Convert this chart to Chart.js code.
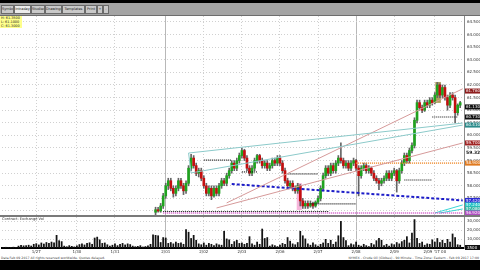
<!DOCTYPE html>
<html>
<head>
<meta charset="utf-8">
<script src="https://cdn.jsdelivr.net/npm/chart.js@4.4.1/dist/chart.umd.min.js"></script>
<style>
  html, body { margin: 0; padding: 0; width: 480px; height: 270px; overflow: hidden; background: #000; font-family: "DejaVu Sans", sans-serif; }
  #frame { position: absolute; left: 0; top: 3px; width: 480px; height: 257px; background: #fff; }
  #toolbar { position: absolute; left: 0; top: 3px; width: 480px; height: 12px; background: #a4a4a4; border-bottom: 1px solid #6d6d6d; }
  .tab { position: absolute; top: 2px; height: 7px; background: #c9c9c9; border: 1px solid #6a6a6a; font-size: 3.5px; line-height: 7px; color: #222; text-align: center; overflow: hidden; white-space: nowrap; }
  .tab.on { background: #ececec; }
  #legend { position: absolute; left: 0; top: 16px; width: 22px; height: 12px; background: #ffff8c; font-size: 3.4px; line-height: 4px; color: #222; padding-left: 1px; box-sizing: border-box; z-index: 3; }
  canvas { position: absolute; left: 0; }
  #price { top: 16px; }
  #sep { position: absolute; left: 0; top: 215px; width: 480px; height: 2px; background: #7a7a7a; }
  #vol { top: 217px; }
  #voltitle { position: absolute; left: 2px; top: 217px; font-size: 3.6px; color: #333; z-index: 3; }
  #footL { position: absolute; left: 1px; top: 256px; font-size: 3.2px; color: #444; white-space: nowrap; }
  #footR { position: absolute; right: 1px; top: 256px; font-size: 3.2px; color: #444; white-space: nowrap; }
</style>
</head>
<body>
<div id="frame"></div>
<div id="toolbar">
  <div class="tab" style="left:1px;width:11px">Symbol</div>
  <div class="tab on" style="left:14px;width:15px">Intraday</div>
  <div class="tab" style="left:31px;width:12px">Studies</div>
  <div class="tab" style="left:45px;width:15px">Drawings</div>
  <div class="tab" style="left:62px;width:21px">Templates</div>
  <div class="tab" style="left:85px;width:10px">Print</div>
  <div class="tab" style="left:97px;width:4px">+</div>
  <div class="tab" style="left:103px;width:4px">-</div>
</div>
<div id="legend">H: 61.3500<br>L: 61.1000<br>C: 61.3000</div>
<canvas id="price" width="480" height="199"></canvas>
<div id="sep"></div>
<div id="voltitle">Contract: Exchange Vol</div>
<canvas id="vol" width="480" height="39"></canvas>
<div id="footL">Data Feb 09 2017 All rights reserved worldwide. Quotes delayed.</div>
<div id="footR">NYMEX - Crude Oil (Globex) - 90 Minute - Time Zone: Eastern - Feb 09 2017 17:00</div>
<script>
// bars on the time axis, candles start at firstCandle
const barCount = 182;
const firstCandle = 60;

const opens = [56.95, 57.05, 57.00, 57.20, 57.60, 58.00, 58.20, 57.90, 57.70, 57.90,
  58.20, 58.00, 57.80, 58.10, 58.70, 59.10, 58.80, 58.50, 58.60, 58.30,
  58.00, 57.70, 57.90, 57.60, 57.90, 57.70, 58.00, 58.20, 58.10, 58.40,
  58.60, 58.90, 58.70, 59.00, 59.20, 59.40, 59.10, 58.70, 58.50, 58.70,
  59.00, 59.20, 59.00, 58.80, 58.90, 58.70, 58.80, 59.00, 58.90, 59.10,
  58.90, 58.60, 58.20, 58.00, 58.10, 57.90, 57.80, 58.00, 57.40, 57.20,
  57.30, 57.20, 57.30, 57.20, 57.35, 57.50, 57.90, 58.40, 58.70, 58.50,
  58.80, 58.60, 58.90, 59.10, 59.00, 58.80, 58.90, 58.70, 58.90, 59.00,
  58.70, 58.40, 58.70, 58.80, 58.60, 58.70, 58.50, 58.30, 58.20, 58.10,
  58.20, 58.30, 58.50, 58.30, 58.50, 58.60, 58.20, 58.60, 58.90, 59.20,
  59.00, 59.40, 59.60, 60.60, 61.30, 61.10, 61.00, 61.30, 61.20, 61.40,
  61.30, 61.60, 62.00, 61.60, 61.90, 61.50, 61.20, 61.60, 61.50, 60.90,
  61.20];
const highs = [57.15, 57.15, 57.30, 57.70, 58.10, 58.30, 58.30, 58.00, 58.00, 58.30,
  58.30, 58.10, 58.20, 58.80, 59.25, 59.20, 58.90, 58.70, 58.70, 58.40,
  58.10, 58.00, 58.00, 58.00, 58.00, 58.10, 58.30, 58.30, 58.50, 58.70,
  59.00, 59.00, 59.10, 59.30, 59.50, 59.45, 59.20, 58.80, 58.80, 59.10,
  59.25, 59.25, 59.10, 59.00, 59.00, 58.90, 59.10, 59.10, 59.20, 59.20,
  59.00, 58.70, 58.30, 58.20, 58.20, 58.00, 58.10, 58.05, 57.50, 57.40,
  57.40, 57.40, 57.35, 57.40, 57.60, 58.00, 58.50, 58.80, 58.80, 58.90,
  58.90, 59.00, 59.20, 59.70, 59.10, 59.00, 59.00, 59.00, 59.10, 59.05,
  58.80, 58.80, 58.90, 58.90, 58.80, 58.75, 58.60, 58.40, 58.30, 58.30,
  58.40, 58.60, 58.60, 58.60, 58.70, 58.65, 58.70, 59.00, 59.30, 59.30,
  59.50, 59.70, 60.70, 61.40, 61.40, 61.20, 61.40, 61.40, 61.50, 61.50,
  61.70, 62.10, 62.05, 62.00, 62.00, 61.60, 61.70, 61.70, 61.60, 61.25,
  61.35];
const lows = [56.85, 56.95, 56.95, 57.10, 57.50, 57.85, 57.80, 57.55, 57.60, 57.80,
  57.90, 57.65, 57.70, 58.00, 58.60, 58.70, 58.40, 58.35, 58.20, 57.90,
  57.60, 57.60, 57.45, 57.55, 57.60, 57.60, 57.90, 58.00, 58.00, 58.30,
  58.50, 58.60, 58.60, 58.90, 59.10, 59.00, 58.60, 58.40, 58.40, 58.60,
  58.90, 58.90, 58.70, 58.70, 58.60, 58.60, 58.70, 58.80, 58.80, 58.80,
  58.50, 58.10, 57.90, 57.90, 57.80, 57.70, 57.70, 57.20, 57.10, 57.10,
  57.10, 57.15, 57.10, 57.15, 57.30, 57.40, 57.80, 58.30, 58.40, 58.40,
  58.50, 58.50, 58.80, 58.90, 58.70, 58.70, 58.60, 58.60, 58.80, 58.60,
  57.60, 58.30, 58.60, 58.50, 58.50, 58.40, 58.20, 58.10, 57.85, 58.00,
  58.10, 58.20, 58.20, 58.20, 58.40, 57.75, 58.10, 58.50, 58.80, 58.90,
  58.90, 59.30, 59.50, 60.50, 61.00, 60.90, 60.95, 61.10, 61.10, 61.20,
  61.25, 61.50, 61.50, 61.50, 61.40, 61.00, 61.10, 61.40, 60.50, 60.80,
  61.10];
const closes = [57.05, 57.00, 57.20, 57.60, 58.00, 58.20, 57.90, 57.70, 57.90, 58.20,
  58.00, 57.80, 58.10, 58.70, 59.10, 58.80, 58.50, 58.60, 58.30, 58.00,
  57.70, 57.90, 57.60, 57.90, 57.70, 58.00, 58.20, 58.10, 58.40, 58.60,
  58.90, 58.70, 59.00, 59.20, 59.40, 59.10, 58.70, 58.50, 58.70, 59.00,
  59.20, 59.00, 58.80, 58.90, 58.70, 58.80, 59.00, 58.90, 59.10, 58.90,
  58.60, 58.20, 58.00, 58.10, 57.90, 57.80, 58.00, 57.40, 57.20, 57.30,
  57.20, 57.30, 57.20, 57.35, 57.50, 57.90, 58.40, 58.70, 58.50, 58.80,
  58.60, 58.90, 59.10, 59.00, 58.80, 58.90, 58.70, 58.90, 59.00, 58.70,
  58.40, 58.70, 58.80, 58.60, 58.70, 58.50, 58.30, 58.20, 58.10, 58.20,
  58.30, 58.50, 58.30, 58.50, 58.60, 58.20, 58.60, 58.90, 59.20, 59.00,
  59.40, 59.60, 60.60, 61.30, 61.10, 61.00, 61.30, 61.20, 61.40, 61.30,
  61.60, 62.00, 61.60, 61.90, 61.50, 61.20, 61.60, 61.50, 60.90, 61.20,
  61.30];

const volumes = [800, 1200, 900, 1100, 1300, 1000, 2500, 3200, 2800, 3000,
  3500, 2600, 4500, 5200, 3800, 6000, 4800, 6500, 5500, 7000,
  6200, 14500, 8500, 7500, 2500, 1800, 3000, 2200, 1600, 2800,
  4200, 5000, 3800, 5500, 6200, 4500, 11500, 12500, 9500, 5500,
  6000, 4000, 2500, 3500, 5000, 3000, 4500, 5500, 3800, 5000,
  4200, 2500, 1800, 2200, 3000, 1500, 2000, 2800, 4500, 15000,
  14500, 14000, 6500, 12000, 11500, 5500, 6500, 5000, 7000, 5500,
  6000, 4500, 21000, 18000, 11000, 14500, 9000, 5000, 4000, 6000,
  3500, 5500, 4500, 3000, 5000, 4000, 3500, 19000, 10500, 9500,
  4500, 7500, 9000, 5500, 6000, 4500, 5500, 13000, 5000, 3500,
  7000, 4500, 21500, 11000, 12000, 2500, 4000, 3000, 2000, 3500,
  5500, 4500, 12000, 8000, 5000, 4000, 6500, 19000, 14000, 10500,
  5000, 3500, 6000, 4000, 2500, 4500, 6000, 10000, 5500, 9000,
  4500, 7000, 14000, 30000, 12000, 8500, 3000, 5000, 4000, 7000,
  3500, 2500, 4500, 3000, 2000, 5500, 4000, 8500, 11000, 9000,
  3000, 4500, 2500, 5000, 4000, 6500, 5000, 7500, 9000, 13000,
  6000, 17000, 32000, 11000, 5500, 7000, 3500, 5000, 4500, 9500,
  7000, 11000, 6500, 9000, 5500, 10000, 7000, 16000, 12000, 4000,
  3500, null];

// time axis
const tickIndex = [13, 29, 44, 64, 79, 94, 109, 124, 139, 154, 170];
const tickLabels = ['1/27', '1/30', '1/31', '2/01', '2/02', '2/03', '2/06', '2/07', '2/08', '2/09', "2/09 '17 00"];
const sessionBreaks = [64, 139];

// price axis
const priceTicks = [64.5, 64.0, 63.5, 63.0, 62.5, 62.0, 61.5, 61.0, 60.5, 60.0, 59.5, 59.0, 58.5, 58.0, 57.5, 57.0];
const priceMax = 64.738;
const priceMin = 56.841;
const volTicks = [10000, 20000, 30000];
const volMax = 34500;

// drawn studies: [bar index, price] end points
const tealUpper = [[73, 59.30], [181, 60.49]];
const tealLink = [[73, 59.30], [74, 58.51]];
const tealLower = [[74, 58.51], [181, 60.41]];
const redSteep = [[88, 57.32], [181, 61.85]];
const redShallow = [[84, 57.12], [181, 59.70]];
const blueTrend = [[90, 58.07], [181, 57.42]];
const orangeLevel = [[139, 58.90], [181, 58.90]];
const magentaLevel = [[63, 56.92], [181, 56.92]];
const cyanFan1 = [[170, 56.92], [181, 57.24]];
const cyanFan2 = [[172, 56.92], [181, 57.08]];
const blackLevels = [
  [[79, 59.02], [90, 59.02]],
  [[94, 58.55], [100, 58.55]],
  [[112, 58.47], [124, 58.47]],
  [[121, 57.28], [139, 57.28]],
  [[158, 58.23], [169, 58.23]],
  [[169, 60.73], [179, 60.73]],
  [[63, 56.98], [128, 56.98]]
];

// highlighted candle zones: start bar, end bar, top price, bottom price
const zoneStart = [115.6, 170.2];
const zoneEnd = [117.6, 172.4];
const zoneTop = [58.11, 62.12];
const zoneBottom = [57.04, 61.29];
const zoneColors = ['rgba(240,120,190,0.55)', 'rgba(150,130,40,0.75)'];

// price markers on the right axis
const markerValues = [61.76, 61.13, 60.73, 60.41, 59.70, 58.90, 57.42, 57.24, 57.08, 56.92];
const markerColors = ['#8e1d1d', '#111111', '#111111', '#2b8b8b', '#a02424', '#e07a1f', '#2a2ad2', '#22c6c6', '#33b5a5', '#b04fc2'];

const barLabels = Array.from({ length: barCount }, (_, i) => String(i));

function candleAt(i, fn) {
  const k = i - firstCandle;
  return (k >= 0 && k < closes.length) ? fn(k) : null;
}

const bodyData = barLabels.map((_, i) => candleAt(i, k => [opens[k], closes[k]]));
const wickData = barLabels.map((_, i) => candleAt(i, k => [lows[k], highs[k]]));
const bodyColors = barLabels.map((_, i) => candleAt(i, k => closes[k] >= opens[k] ? '#1fa31f' : '#c40f0f') || '#000');

function segment(points, color, width, dash) {
  return {
    type: 'line',
    data: points.map(p => ({ x: String(p[0]), y: p[1] })),
    borderColor: color,
    borderWidth: width,
    borderDash: dash,
    pointRadius: 0,
    fill: false,
    order: 1
  };
}

const studySets = [
  segment(tealUpper, '#8ccaca', 1, []),
  segment(tealLink, '#8ccaca', 1, []),
  segment(tealLower, '#8ccaca', 1, []),
  segment(redSteep, '#d69a9a', 1, []),
  segment(redShallow, '#d69a9a', 1, []),
  segment(orangeLevel, '#f08a2a', 1.5, [1, 1]),
  segment(magentaLevel, '#d050c8', 1.5, [1, 1]),
  segment(cyanFan1, '#3ad6d6', 1, []),
  segment(cyanFan2, '#3ad6d6', 1, []),
  segment(blueTrend, '#1c1cc8', 2, [3, 2])
].concat(blackLevels.map(l => segment(l, '#111', 1.2, [1, 1])));

const gridColor = ctx => sessionBreaks.includes(ctx.tick && ctx.tick.value) ? '#b8b8b8' : '#d0d0d0';
const gridDash = ctx => sessionBreaks.includes(ctx.tick && ctx.tick.value) ? [] : [1, 2];

const overlayPlugin = {
  id: 'overlay',
  beforeDatasetsDraw(chart) {
    const { ctx, scales: { x, y } } = chart;
    ctx.save();
    zoneStart.forEach((s, i) => {
      const x0 = x.getPixelForValue(s);
      const x1 = x.getPixelForValue(zoneEnd[i]);
      const y0 = y.getPixelForValue(zoneTop[i]);
      const y1 = y.getPixelForValue(zoneBottom[i]);
      ctx.fillStyle = zoneColors[i];
      ctx.fillRect(x0, y0, x1 - x0, y1 - y0);
    });
    ctx.restore();
  },
  afterDraw(chart) {
    const { ctx, chartArea, scales: { y } } = chart;
    ctx.save();
    ctx.font = '4px "DejaVu Sans"';
    ctx.textBaseline = 'middle';
    markerValues.forEach((v, i) => {
      const py = y.getPixelForValue(v);
      ctx.fillStyle = markerColors[i];
      ctx.fillRect(chartArea.right + 1, py - 2.5, 15, 5);
      ctx.fillStyle = '#fff';
      ctx.fillText(v.toFixed(4), chartArea.right + 2, py + 0.3);
    });
    ctx.fillStyle = '#111';
    ctx.font = 'bold 4.5px "DejaVu Sans"';
    ctx.fillText('59.325', chartArea.right + 2, y.getPixelForValue(59.30));
    ctx.restore();
  }
};

new Chart(document.getElementById('price'), {
  type: 'bar',
  data: {
    labels: barLabels,
    datasets: studySets.concat([
      { data: bodyData, backgroundColor: bodyColors, barThickness: 2, grouped: false, order: 2 },
      { data: wickData, backgroundColor: '#666', barThickness: 1, grouped: false, order: 3 }
    ])
  },
  options: {
    responsive: false,
    animation: false,
    devicePixelRatio: 1,
    layout: { padding: { left: 2, right: 0, top: 0, bottom: 0 } },
    plugins: { legend: { display: false }, tooltip: { enabled: false } },
    scales: {
      x: {
        type: 'category',
        grid: { offset: false, drawTicks: false, color: gridColor },
        border: { display: false, dash: gridDash },
        ticks: { display: false },
        afterBuildTicks: s => { s.ticks = tickIndex.map(v => ({ value: v })); },
        afterFit: s => { s.height = 0; }
      },
      y: {
        position: 'right',
        min: priceMin,
        max: priceMax,
        grid: { drawTicks: false, color: '#d0d0d0' },
        border: { display: true, color: '#8a8a8a', dash: [1, 2] },
        ticks: {
          font: { size: 4, family: 'DejaVu Sans' },
          color: '#333',
          padding: 3,
          callback: v => v.toFixed(4)
        },
        afterBuildTicks: s => { s.ticks = priceTicks.map(v => ({ value: v })); },
        afterFit: s => { s.width = 16; s.paddingTop = 0; s.paddingBottom = 0; }
      }
    }
  },
  plugins: [overlayPlugin]
});

const volBoxPlugin = {
  id: 'volbox',
  afterDraw(chart) {
    const { ctx, chartArea } = chart;
    ctx.save();
    ctx.fillStyle = '#111';
    ctx.fillRect(chartArea.right + 1, chartArea.bottom - 3, 15, 5);
    ctx.fillStyle = '#fff';
    ctx.font = '4px "DejaVu Sans"';
    ctx.textBaseline = 'middle';
    ctx.fillText(String(volumes[barCount - 2]), chartArea.right + 3, chartArea.bottom - 0.5);
    ctx.restore();
  }
};

new Chart(document.getElementById('vol'), {
  type: 'bar',
  data: {
    labels: barLabels,
    datasets: [{ data: volumes, backgroundColor: '#141414', barPercentage: 0.7, categoryPercentage: 1 }]
  },
  options: {
    responsive: false,
    animation: false,
    devicePixelRatio: 1,
    layout: { padding: { left: 2, right: 0, top: 0, bottom: 0 } },
    plugins: { legend: { display: false }, tooltip: { enabled: false } },
    scales: {
      x: {
        type: 'category',
        grid: { offset: false, drawTicks: false, color: gridColor },
        border: { display: true, color: '#000', width: 2, dash: gridDash },
        ticks: {
          font: { size: 4, family: 'DejaVu Sans' },
          color: '#333',
          padding: 2,
          maxRotation: 0,
          autoSkip: false,
          callback: (v, i) => tickLabels[i]
        },
        afterBuildTicks: s => { s.ticks = tickIndex.map(v => ({ value: v })); },
        afterFit: s => { s.height = 8; }
      },
      y: {
        position: 'right',
        min: 0,
        max: volMax,
        grid: { drawTicks: false, color: '#d0d0d0' },
        border: { display: true, color: '#8a8a8a', dash: [1, 2] },
        ticks: { font: { size: 4, family: 'DejaVu Sans' }, color: '#333', padding: 3 },
        afterBuildTicks: s => { s.ticks = volTicks.map(v => ({ value: v })); },
        afterFit: s => { s.width = 16; s.paddingTop = 0; s.paddingBottom = 0; }
      }
    }
  },
  plugins: [volBoxPlugin]
});
</script>
</body>
</html>
